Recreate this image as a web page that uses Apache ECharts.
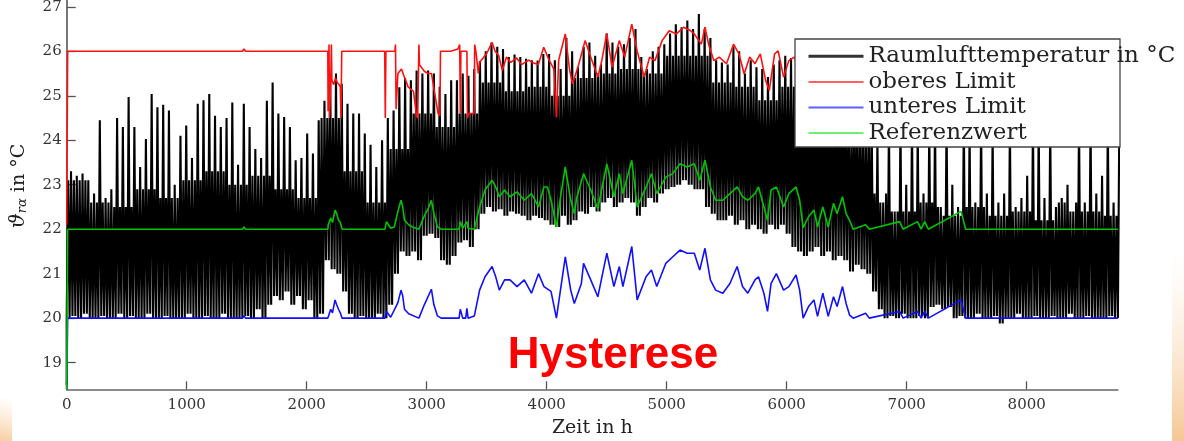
<!DOCTYPE html>
<html><head><meta charset="utf-8">
<script src="https://cdn.jsdelivr.net/npm/echarts@6/dist/echarts.min.js"></script>
<style>html,body{margin:0;padding:0;background:#fff;}#c{width:1184px;height:441px;}</style>
</head><body><div id="c"></div>
<script>
// ---- data ----
const xTicks = [0,1000,2000,3000,4000,5000,6000,7000,8000];
const yTicks = [19,20,21,22,23,24,25,26,27];
const binHours = 48;      // black trace: per 48 h bin one low, one typical daily peak, one spike peak
const coreBinCount = 4;   // typical daily peak level read per 4 bins (192 h)
const tempStart = [[0, 18.5]];
const tempHigh = [
23.3,23.2,23.25,23.1,22.8,24.45,22.7,22.9,24.5,24.3,
24.97,24.3,23.4,24.03,25.04,24.74,24.8,24.67,23.0,24.1,
24.33,23.6,24.82,24.9,25.04,24.55,24.3,24.5,24.85,23.45,
24.82,24.3,23.8,23.6,24.89,25.3,24.6,24.52,24.3,23.55,
23.6,24.15,23.7,24.45,24.89,25.49,25.5,25.27,24.82,24.6,
24.6,24.15,23.9,23.4,24.0,24.5,24.67,25.19,25.4,25.35,
25.57,25.5,25.57,25.5,25.2,25.04,25.35,25.35,25.5,25.45,
25.6,25.78,26.0,26.2,26.1,26.05,25.87,25.93,25.87,25.83,
25.8,25.79,25.94,25.94,25.8,25.6,26.3,26.0,25.64,26.1,
26.2,25.9,25.7,26.4,26.2,26.1,26.16,26.3,26.5,25.87,
25.6,26.0,26.1,26.16,26.4,26.61,26.54,26.69,26.5,26.84,
26.5,26.3,25.8,25.75,25.7,26.1,26.0,25.5,25.8,25.64,
25.6,25.42,25.7,25.8,25.9,25.85,26.0,25.6,25.3,25.5,
25.2,25.4,24.9,25.3,25.0,24.8,25.1,24.7,24.5,24.6,
24.0,22.6,24.5,22.4,24.5,23.0,24.5,24.3,22.8,24.4,
24.5,22.5,24.5,23.0,22.5,24.6,24.3,22.6,24.5,22.8,
24.2,22.6,22.8,24.4,22.5,22.7,23.2,24.5,24.4,22.7,
24.4,22.5,22.7,23.0,22.4,24.5,22.6,24.5,22.8,23.2,24.5,22.6,24.5];
const tempCore = [
23.1,22.6,22.5,22.9,22.7,23.1,23.3,23.0,23.2,22.9,
22.7,24.5,23.3,22.6,23.8,24.6,24.3,24.6,25.3,25.1,
25.2,25.0,25.4,25.5,25.6,25.5,25.9,25.9,25.3,25.2,
24.9,25.2,24.8,24.5,24.2,22.8,22.4,22.6,22.3,22.5,
22.3,22.4,22.2,22.6,22.4,22.3];
const tempLow = [
20.0,20.05,20.0,20.1,20.0,20.0,20.05,20.0,20.0,20.1,
20.0,20.05,20.0,20.0,20.1,20.0,20.0,20.05,20.0,20.0,
20.0,20.1,20.0,20.0,20.05,20.0,20.0,20.1,20.0,20.0,
20.0,20.05,20.0,20.2,20.0,20.3,20.5,20.4,20.6,20.3,
20.5,20.2,20.4,20.0,20.1,21.3,21.1,21.0,20.6,20.1,
20.0,20.05,20.0,20.0,20.1,20.0,20.3,21.0,21.5,21.4,
21.5,21.3,21.85,21.9,21.8,21.3,21.2,21.4,21.7,21.75,
21.6,22.0,22.35,22.5,22.4,22.45,22.3,22.4,22.35,22.3,
22.2,22.3,22.25,22.2,22.1,22.05,22.3,22.1,22.2,22.4,
22.35,22.5,22.4,22.6,22.7,22.5,22.6,22.7,22.6,22.3,
22.5,22.7,22.6,22.8,22.9,22.95,23.0,23.1,23.0,22.9,
22.9,22.5,22.35,22.2,22.2,22.3,22.1,22.2,22.0,22.1,
22.0,21.9,22.1,22.0,22.1,21.9,21.6,21.5,21.4,21.5,
21.6,21.4,21.5,21.3,21.4,21.3,21.05,21.2,21.1,21.0,
20.6,20.2,20.0,20.05,20.0,20.1,20.0,20.0,20.05,20.0,
20.25,20.3,20.2,20.25,20.0,20.05,20.0,20.0,20.1,20.0,
20.0,20.05,19.88,20.0,20.0,20.1,20.0,20.0,20.05,20.0,
20.0,20.05,20.0,20.0,20.1,20.0,20.0,20.05,20.0,20.0,20.0,20.05,20.0];
const upperLimit = [
[0,22.1],[8,26.0],[1465,26.0],[1477,26.05],[1490,26.0],[2176,26.0],[2178,24.65],[2186,26.15],[2190,24.5],
[2200,25.3],[2206,26.15],[2210,25.35],[2225,25.25],[2240,25.4],[2255,25.3],[2270,25.25],[2280,25.2],[2286,24.5],
[2292,26.0],[2650,26.0],[2655,24.5],[2660,26.0],[2735,26.0],[2740,26.15],[2745,24.7],[2760,25.5],[2790,25.6],
[2810,25.45],[2845,25.2],[2890,25.1],[2915,24.55],[2925,24.5],[2935,26.15],[2940,25.7],[2980,25.55],[3010,25.5],
[3040,25.5],[3070,25.0],[3095,24.6],[3110,24.55],[3115,26.0],[3200,26.0],[3260,26.05],[3275,26.15],[3280,24.6],
[3285,26.0],[3335,26.0],[3340,24.5],[3350,24.6],[3395,24.6],[3400,26.15],[3410,26.0],[3430,25.5],[3440,25.75],
[3470,25.85],[3500,25.95],[3545,26.2],[3570,26.0],[3600,25.9],[3630,25.57],[3665,25.87],[3700,25.75],[3750,25.85],
[3790,25.7],[3850,25.8],[3880,25.75],[3930,25.7],[3975,26.09],[4020,25.8],[4060,25.6],[4081,24.52],[4100,25.8],
[4155,26.39],[4190,25.6],[4215,25.27],[4260,25.64],[4320,26.24],[4367,25.87],[4426,25.42],[4460,25.8],[4500,26.4],
[4545,25.64],[4605,26.24],[4650,25.87],[4709,26.61],[4754,26.0],[4813,25.42],[4858,25.87],[4902,25.79],[4962,26.24],
[5021,26.46],[5081,26.39],[5141,26.54],[5200,26.46],[5230,26.39],[5289,26.16],[5319,26.54],[5349,26.16],[5393,25.79],
[5438,25.87],[5498,25.72],[5557,26.16],[5602,25.94],[5646,25.49],[5691,25.87],[5736,25.72],[5780,25.94],[5825,25.34],
[5855,25.12],[5899,25.94],[5929,26.01],[5974,25.42],[6018,25.79],[6063,25.87],[6100,25.6],[6137,26.0],[8760,26.0]];
const lowerLimit = [
[0,18.4],[8,20.0],[1465,20.0],[1477,20.05],[1490,20.0],[2176,20.0],[2200,20.2],[2215,20.12],[2236,20.41],[2250,20.3],
[2265,20.2],[2280,20.12],[2295,20.0],[2652,20.0],[2665,20.15],[2700,20.02],[2760,20.35],[2786,20.63],[2800,20.5],
[2815,20.2],[2850,20.1],[2935,20.0],[2980,20.3],[3039,20.65],[3060,20.3],[3090,20.05],[3120,20.0],[3270,20.0],
[3280,20.2],[3300,20.0],[3325,20.0],[3335,20.22],[3345,20.0],[3397,20.05],[3441,20.63],[3486,20.93],[3545,21.16],
[3575,20.93],[3605,20.63],[3649,20.86],[3694,20.86],[3753,20.71],[3813,20.86],[3873,20.56],[3932,21.0],[3977,20.71],
[4036,20.6],[4081,20.0],[4111,20.56],[4155,21.38],[4200,20.63],[4230,20.33],[4289,20.78],[4307,21.23],[4367,20.86],
[4426,20.48],[4501,21.46],[4560,20.71],[4605,21.16],[4635,20.71],[4709,21.61],[4754,20.41],[4828,20.93],[4873,21.08],
[4917,20.71],[4992,21.23],[5051,21.38],[5111,21.53],[5170,21.46],[5230,21.46],[5275,21.08],[5319,21.57],[5364,20.86],
[5408,20.63],[5468,20.56],[5527,20.78],[5587,21.16],[5632,20.71],[5676,20.56],[5736,20.86],[5765,20.93],[5810,20.56],
[5840,20.15],[5870,20.78],[5914,21.0],[5974,20.63],[6018,20.71],[6078,20.97],[6108,20.63],[6137,20.0],[6182,20.26],
[6227,20.41],[6257,20.04],[6301,20.56],[6346,20.04],[6390,20.48],[6420,20.26],[6465,20.71],[6495,20.33],[6524,20.07],
[6554,20.0],[6658,20.11],[6688,20.0],[6941,20.15],[6970,20.0],[7090,20.15],[7120,20.0],[7150,20.15],[7180,20.0],
[7453,20.41],[7491,20.0],[8760,20.0]];
const reference = [
[0,18.4],[8,22.0],[1465,22.0],[1477,22.05],[1490,22.0],[2176,22.0],[2180,22.1],[2200,22.25],[2215,22.15],[2236,22.43],
[2250,22.35],[2265,22.2],[2280,22.15],[2295,22.0],[2652,22.0],[2665,22.17],[2700,22.02],[2730,22.05],[2760,22.4],
[2786,22.65],[2800,22.5],[2815,22.2],[2850,22.1],[2880,22.05],[2935,22.0],[2980,22.3],[3010,22.45],[3039,22.65],
[3060,22.35],[3090,22.05],[3120,22.0],[3270,22.0],[3280,22.17],[3300,22.02],[3335,22.17],[3345,22.02],[3397,22.0],
[3441,22.5],[3486,22.88],[3545,23.1],[3575,22.95],[3605,22.73],[3649,22.88],[3694,22.73],[3753,22.84],[3813,22.65],
[3873,22.8],[3932,22.5],[3977,22.95],[4006,22.95],[4036,22.65],[4081,22.05],[4111,22.65],[4155,23.4],[4200,22.65],
[4230,22.35],[4250,22.7],[4307,23.25],[4367,22.88],[4426,22.46],[4501,23.47],[4560,22.73],[4605,23.25],[4635,22.8],
[4709,23.55],[4754,22.5],[4828,22.95],[4873,23.25],[4917,22.8],[4992,23.17],[5051,23.25],[5111,23.47],[5170,23.4],
[5230,23.47],[5275,23.1],[5319,23.55],[5364,22.95],[5408,22.65],[5468,22.65],[5527,22.8],[5587,22.95],[5632,22.73],
[5676,22.65],[5736,22.8],[5765,22.95],[5810,22.5],[5840,22.2],[5870,22.88],[5914,22.95],[5974,22.5],[6018,22.8],
[6078,22.95],[6108,22.65],[6137,22.03],[6182,22.28],[6227,22.43],[6257,22.05],[6301,22.5],[6346,22.05],[6390,22.58],
[6420,22.35],[6465,22.73],[6495,22.35],[6524,22.2],[6554,22.0],[6658,22.1],[6688,22.0],[6941,22.17],[6970,22.0],
[7090,22.17],[7120,22.0],[7150,22.17],[7180,22.0],[7453,22.4],[7491,22.0],[8760,22.0]];
const seriesNames = ['Raumlufttemperatur in °C','oberes Limit','unteres Limit','Referenzwert'];

// ---- black trace: per bin low -> typical peak -> low -> spike peak ----
const roomTemp = tempStart.slice();
tempLow.forEach((lo, i) => {
  const t0 = i * binHours;
  const core = Math.min(tempCore[Math.floor(i / coreBinCount)], tempHigh[i]);
  roomTemp.push([t0, lo]);
  roomTemp.push([t0 + binHours / 4, core]);
  roomTemp.push([t0 + binHours / 2, lo]);
  roomTemp.push([t0 + 3 * binHours / 4, tempHigh[i]]);
});

const serif = 'DejaVu Serif';
const chart = echarts.init(document.getElementById('c'), null, {renderer: 'canvas'});
chart.setOption({
  backgroundColor: '#ffffff',
  animation: false,
  grid: {left: 66.7, right: 66.1, top: 0, bottom: 51.7, containLabel: false, outerBoundsMode: 'none'},
  xAxis: {
    type: 'value', min: 0, max: 8760,
    name: 'Zeit in h', nameLocation: 'middle', nameGap: 29,
    nameTextStyle: {fontFamily: serif, fontSize: 19, color: '#222'},
    axisLine: {show: true, lineStyle: {color: '#666', width: 1.6}},
    axisTick: {show: true, inside: true, length: 8, customValues: xTicks, lineStyle: {color: '#555', width: 1.3}},
    axisLabel: {customValues: xTicks, formatter: v => String(v), fontFamily: serif, fontSize: 15, color: '#333', margin: 8},
    splitLine: {show: false}
  },
  yAxis: {
    type: 'value', min: 18.40, max: 27.153,
    axisLine: {show: true, lineStyle: {color: '#555', width: 1.6}},
    axisTick: {show: true, inside: true, length: 9, customValues: yTicks, lineStyle: {color: '#555', width: 1.3}},
    axisLabel: {customValues: yTicks, formatter: v => String(v), fontFamily: serif, fontSize: 15, color: '#333', margin: 5},
    splitLine: {show: false}
  },
  legend: {
    orient: 'vertical', left: 807, top: 44, padding: 0, itemGap: 1,
    itemWidth: 55, itemHeight: 14, z: 10,
    textStyle: {fontFamily: serif, fontSize: 23, color: '#222', lineHeight: 24.6},
    data: [
      {name: seriesNames[0], itemStyle: {opacity: 0}, lineStyle: {width: 3, color: '#333'}},
      {name: seriesNames[1], itemStyle: {opacity: 0}, lineStyle: {width: 2, color: '#ff6060'}},
      {name: seriesNames[2], itemStyle: {opacity: 0}, lineStyle: {width: 2, color: '#6060ff'}},
      {name: seriesNames[3], itemStyle: {opacity: 0}, lineStyle: {width: 2, color: '#70ee70'}}
    ]
  },
  graphic: [
    {type: 'rect', z: 8, shape: {x: 795, y: 39, width: 325, height: 108},
     style: {fill: '#ffffff', stroke: '#444', lineWidth: 1.3}},
    {type: 'text', z: 9, x: 613, y: 356,
     style: {text: 'Hysterese', fontFamily: 'Liberation Sans', fontWeight: 'bold', fontSize: 44, fill: '#ff0000',
             align: 'center', verticalAlign: 'middle'}},
    {type: 'text', z: 9, x: 19, y: 186, rotation: Math.PI / 2,
     style: {text: '{i|ϑ}{s|rα}{n| in °C}', align: 'center', verticalAlign: 'middle',
       rich: {
         i: {fontFamily: serif, fontStyle: 'italic', fontSize: 21, fill: '#222'},
         s: {fontFamily: serif, fontStyle: 'italic', fontSize: 13, fill: '#222', padding: [8, 0, 0, 0]},
         n: {fontFamily: serif, fontSize: 19, fill: '#222'}
       }}},
    {type: 'text', z: 9, x: 597, y: 3,
     style: {text: 'Zeit in h', fontFamily: serif, fontSize: 18, fill: '#888', align: 'center', verticalAlign: 'bottom'}},
    {type: 'rect', z: 1, shape: {x: 0, y: 398, width: 12, height: 43},
     style: {fill: new echarts.graphic.LinearGradient(1, 0, 0, 1, [{offset: 0, color: 'rgba(250,220,180,0)'}, {offset: 1, color: 'rgba(246,200,150,0.9)'}])}},
    {type: 'rect', z: 1, shape: {x: 1172, y: 250, width: 12, height: 191},
     style: {fill: new echarts.graphic.LinearGradient(0, 0, 1, 1, [{offset: 0, color: 'rgba(252,235,215,0)'}, {offset: 1, color: 'rgba(245,195,140,0.95)'}])}}
  ],
  series: [
    {name: seriesNames[0], type: 'line', data: roomTemp, symbol: 'none', showSymbol: false, z: 2,
     lineStyle: {color: '#000', width: 2.1}, itemStyle: {color: '#000'}},
    {name: seriesNames[1], type: 'line', data: upperLimit, symbol: 'none', showSymbol: false, z: 3,
     lineStyle: {color: '#ff1010', width: 1.6}, itemStyle: {color: '#ff1010'}},
    {name: seriesNames[2], type: 'line', data: lowerLimit, symbol: 'none', showSymbol: false, z: 3,
     lineStyle: {color: '#1010ff', width: 1.6}, itemStyle: {color: '#1010ff'}},
    {name: seriesNames[3], type: 'line', data: reference, symbol: 'none', showSymbol: false, z: 3,
     lineStyle: {color: '#00c400', width: 1.6}, itemStyle: {color: '#00c400'}}
  ]
});
</script></body></html>
